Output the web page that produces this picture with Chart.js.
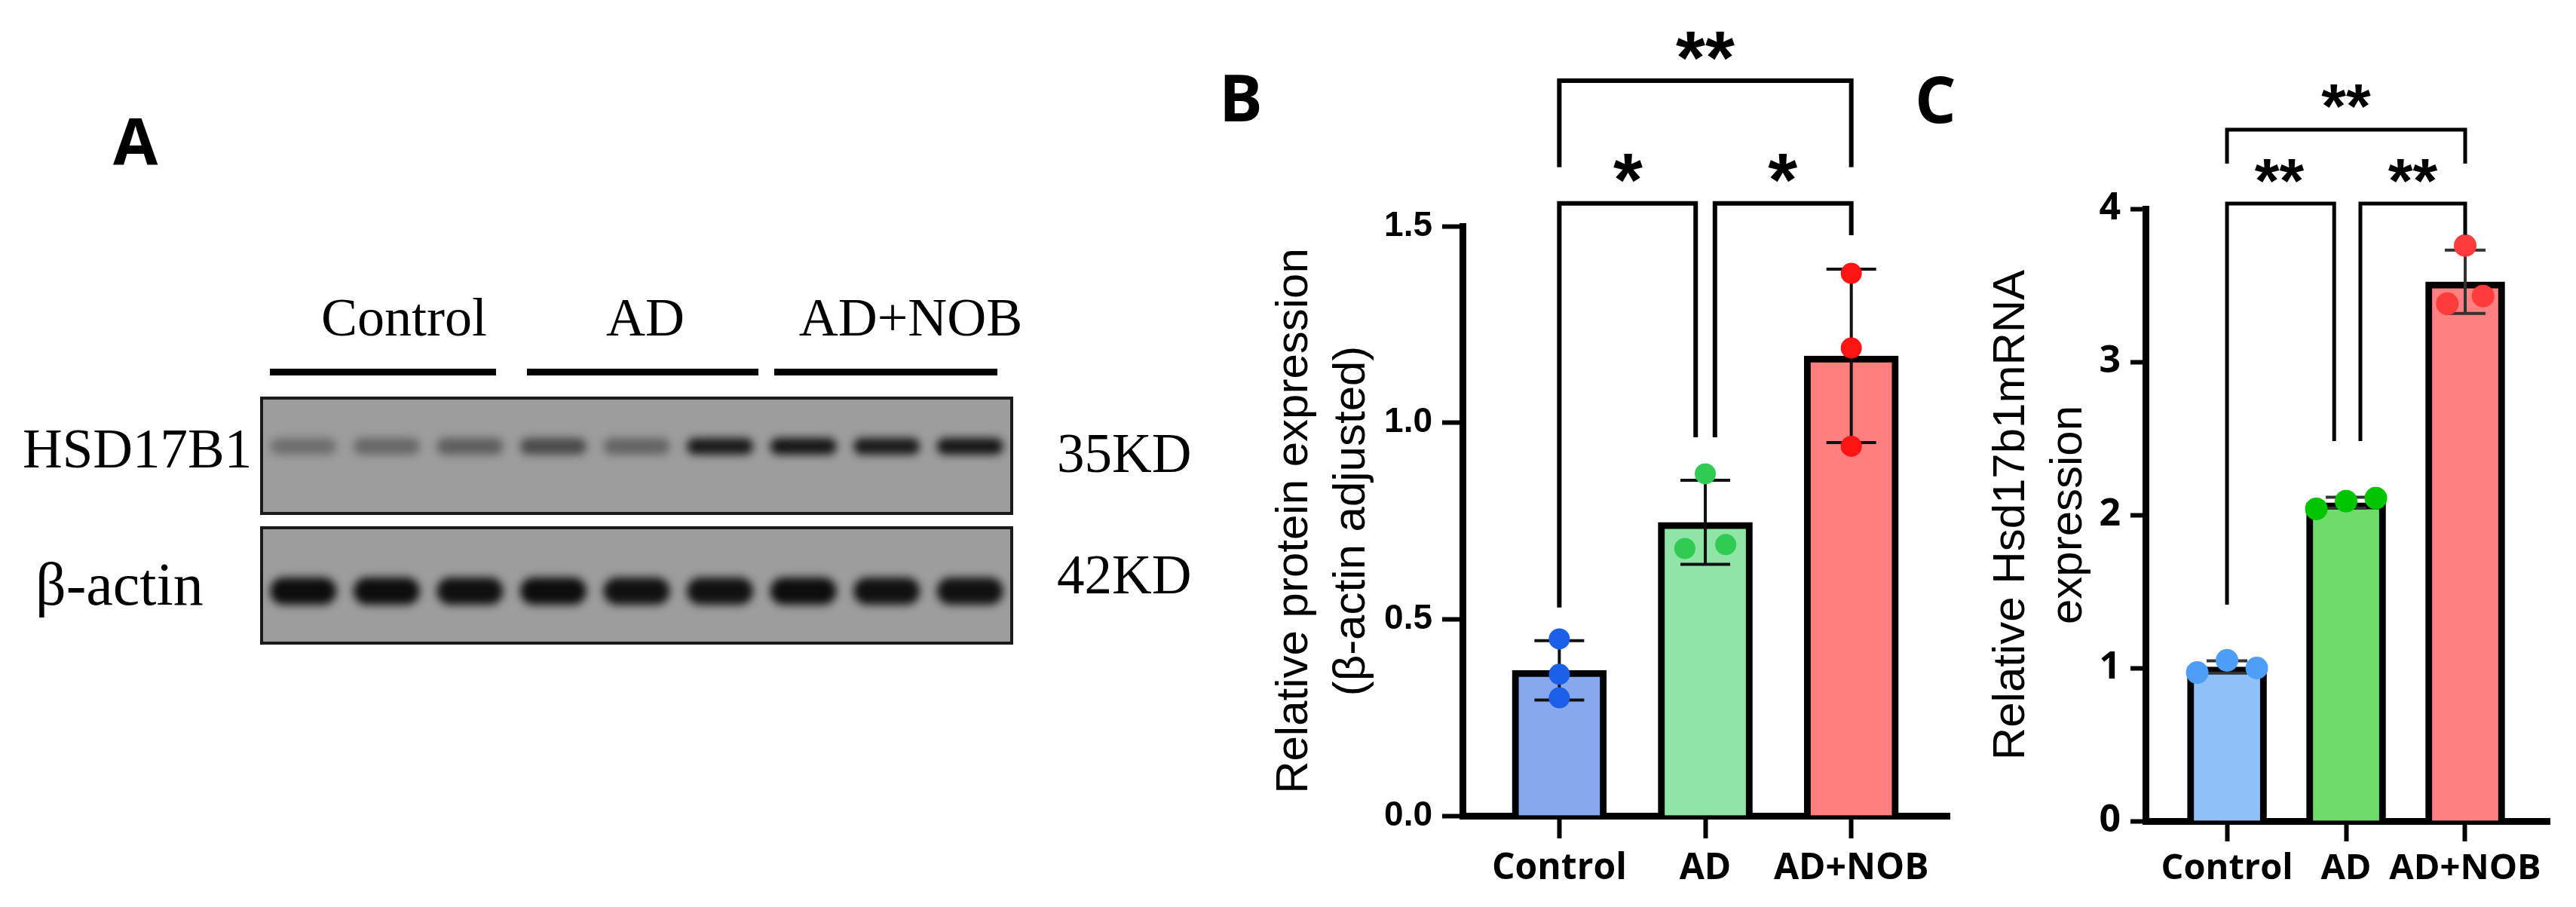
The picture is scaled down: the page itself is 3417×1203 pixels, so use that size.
<!DOCTYPE html>
<html>
<head>
<meta charset="utf-8">
<script src="https://cdn.jsdelivr.net/npm/chart.js@4.4.1/dist/chart.umd.min.js"></script>
<style>
  html, body { margin: 0; padding: 0; background: #fff; }
  #wrap { position: relative; width: 3417px; height: 1203px; overflow: hidden; }
  canvas { position: absolute; top: 0; }
</style>
</head>
<body>
<div id="wrap">
  <canvas id="bg" width="3417" height="1203" style="left:0"></canvas>
  <canvas id="chartB" width="1000" height="1203" style="left:1600px"></canvas>
  <canvas id="chartC" width="867" height="1203" style="left:2550px"></canvas>
</div>
<script>
// ---- data ----
const groups = ['Control', 'AD', 'AD+NOB'];

// B: relative protein expression (beta-actin adjusted), 3 replicates per group
const proteinControl = [0.45, 0.36, 0.30];
const proteinAD = [0.87, 0.68, 0.69];
const proteinNOB = [1.38, 1.19, 0.94];
const proteinTicks = [0, 0.5, 1.0, 1.5];

// C: relative Hsd17b1 mRNA expression
const mrnaControl = [0.97, 1.05, 1.00];
const mrnaAD = [2.04, 2.09, 2.11];
const mrnaNOB = [3.76, 3.38, 3.43];
const mrnaTicks = [0, 1, 2, 3, 4];

// A: western blot band darkness per lane (0..1)
const blotLanes = ['Control', 'Control', 'Control', 'AD', 'AD', 'AD', 'AD+NOB', 'AD+NOB', 'AD+NOB'];
const hsdBands = [0.30, 0.36, 0.42, 0.55, 0.38, 0.88, 0.90, 0.88, 0.90];
const actinBands = [0.97, 0.97, 0.95, 0.97, 0.94, 0.94, 0.97, 0.94, 0.94];

// jitter of the dots inside each bar (category units)
const jitterB = [[0, 0, 0], [0, -0.14, 0.14], [0, 0, 0]];
const jitterC = [[-0.25, 0, 0.25], [-0.25, 0, 0.25], [0, -0.15, 0.15]];

// significance brackets (value units)
const bracketsB = [
  { from: 0, to: 2, top: 1.87, legFrom: 1.65, legTo: 1.65, label: '**', labelX: 1, labelY: 1.97 },
  { from: 0, to: 0.934, top: 1.558, legFrom: 0.53, legTo: 0.963, label: '*', labelX: 0.47, labelY: 1.66 },
  { from: 1.066, to: 2, top: 1.558, legFrom: 0.963, legTo: 1.477, label: '*', labelX: 1.53, labelY: 1.66 }
];
const bracketsC = [
  { from: 0, to: 2, top: 4.517, legFrom: 4.296, legTo: 4.296, label: '**', labelX: 1, labelY: 4.76 },
  { from: 0, to: 0.9, top: 4.034, legFrom: 1.414, legTo: 2.483, label: '**', labelX: 0.44, labelY: 4.27 },
  { from: 1.12, to: 2, top: 4.034, legFrom: 2.483, legTo: 3.83, label: '**', labelX: 1.56, labelY: 4.27 }
];

const mean = a => a.reduce((s, v) => s + v, 0) / a.length;
const sd = a => { const m = mean(a); return Math.sqrt(a.reduce((s, v) => s + (v - m) * (v - m), 0) / (a.length - 1)); };

// ---- panel A: blot and labels, plain canvas ----
function drawBackground() {
  const ctx = document.getElementById('bg').getContext('2d');
  ctx.fillStyle = '#fff';
  ctx.fillRect(0, 0, 3417, 1203);

  ctx.fillStyle = '#000';
  ctx.font = 'bold 86px "Open Sans"';
  ctx.textBaseline = 'alphabetic';
  ctx.textAlign = 'left';
  ctx.fillText('A', 150, 219);
  ctx.fillText('B', 1617, 161);
  ctx.fillText('C', 2540, 163);

  ctx.font = '72px "Liberation Serif"';
  ctx.textAlign = 'center';
  ctx.fillText('Control', 536, 445);
  ctx.fillText('AD', 856, 445);
  ctx.fillText('AD+NOB', 1208, 445);

  ctx.fillRect(358, 489, 300, 9);
  ctx.fillRect(699, 489, 307, 9);
  ctx.fillRect(1027, 489, 296, 9);

  ctx.textAlign = 'left';
  ctx.font = '73px "Liberation Serif"';
  ctx.fillText('HSD17B1', 30, 620);
  ctx.font = '80px "Liberation Serif"';
  ctx.fillText('β-actin', 47, 802);
  ctx.font = '73px "Liberation Serif"';
  ctx.fillText('35KD', 1402, 626);
  ctx.fillText('42KD', 1402, 787);

  drawBlot(ctx, { x: 347, y: 528, w: 995, h: 153 }, hsdBands, 592, 22);
  drawBlot(ctx, { x: 347, y: 700, w: 995, h: 153 }, actinBands, 784, 36);
}

function drawBlot(ctx, box, levels, bandY, bandH) {
  ctx.save();
  ctx.beginPath();
  ctx.rect(box.x, box.y, box.w, box.h);
  ctx.clip();
  ctx.fillStyle = '#9d9d9d';
  ctx.fillRect(box.x, box.y, box.w, box.h);
  const lane = box.w / levels.length;
  ctx.filter = 'blur(6px)';
  levels.forEach((v, i) => {
    const cx = box.x + lane * (i + 0.5);
    ctx.fillStyle = 'rgba(8,8,8,' + v + ')';
    ctx.beginPath();
    ctx.roundRect(cx - 44, bandY - bandH / 2, 88, bandH, bandH / 2);
    ctx.fill();
  });
  ctx.restore();
  ctx.strokeStyle = '#1a1a1a';
  ctx.lineWidth = 4;
  ctx.strokeRect(box.x, box.y, box.w, box.h);
}

// ---- plugins ----
const errorBars = {
  id: 'errorBars',
  afterDatasetDraw(chart, args, opts) {
    if (chart.data.datasets[args.index].type !== 'bar') return;
    const { ctx, scales: { x, y } } = chart;
    ctx.save();
    ctx.strokeStyle = opts.color;
    ctx.lineWidth = opts.lineWidth;
    opts.sets.forEach((pts, i) => {
      const m = mean(pts), s = sd(pts);
      const cx = x.getPixelForValue(i);
      const yt = y.getPixelForValue(m + s), yb = y.getPixelForValue(m - s);
      ctx.beginPath();
      ctx.moveTo(cx, yt); ctx.lineTo(cx, yb);
      ctx.moveTo(cx - opts.cap / 2, yt); ctx.lineTo(cx + opts.cap / 2, yt);
      ctx.moveTo(cx - opts.cap / 2, yb); ctx.lineTo(cx + opts.cap / 2, yb);
      ctx.stroke();
    });
    ctx.restore();
  }
};

const sigBrackets = {
  id: 'sigBrackets',
  afterDraw(chart, args, opts) {
    const { ctx, scales: { x, y } } = chart;
    ctx.save();
    ctx.strokeStyle = '#000';
    ctx.fillStyle = '#000';
    ctx.lineWidth = opts.lineWidth;
    ctx.lineJoin = 'miter';
    ctx.font = opts.font;
    ctx.textAlign = 'center';
    ctx.textBaseline = 'alphabetic';
    opts.brackets.forEach(b => {
      const x1 = x.getPixelForValue(b.from), x2 = x.getPixelForValue(b.to);
      const yt = y.getPixelForValue(b.top);
      ctx.beginPath();
      ctx.moveTo(x1, y.getPixelForValue(b.legFrom));
      ctx.lineTo(x1, yt);
      ctx.lineTo(x2, yt);
      ctx.lineTo(x2, y.getPixelForValue(b.legTo));
      ctx.stroke();
      ctx.fillText(b.label, x.getPixelForValue(b.labelX), y.getPixelForValue(b.labelY) + opts.starShift);
    });
    ctx.restore();
  }
};

function makeChart(id, cfg) {
  const sets = cfg.sets;
  const barData = sets.map((pts, i) => ({ x: i, y: mean(pts) }));
  const dots = [], dotColors = [];
  sets.forEach((pts, i) => pts.forEach((v, k) => {
    dots.push({ x: i + cfg.jitter[i][k], y: v });
    dotColors.push(cfg.dotColors[i]);
  }));

  return new Chart(document.getElementById(id), {
    type: 'bar',
    data: {
      datasets: [
        {
          type: 'scatter',
          data: dots,
          pointRadius: cfg.dotRadius,
          pointBackgroundColor: dotColors,
          pointBorderWidth: 0,
          order: 1
        },
        {
          type: 'bar',
          data: barData,
          backgroundColor: cfg.barColors,
          borderColor: '#000',
          borderWidth: cfg.barBorder,
          barThickness: cfg.barWidth,
          order: 2
        }
      ]
    },
    options: {
      responsive: false,
      animation: false,
      devicePixelRatio: 1,
      events: [],
      layout: { padding: cfg.padding },
      plugins: {
        legend: { display: false },
        tooltip: { enabled: false },
        errorBars: { sets: sets, cap: cfg.cap, lineWidth: cfg.errWidth, color: cfg.errColor },
        sigBrackets: { brackets: cfg.brackets, font: cfg.starFont, starShift: cfg.starShift, lineWidth: cfg.bracketWidth }
      },
      scales: {
        x: {
          type: 'linear',
          offset: false,
          min: cfg.xMin,
          max: cfg.xMax,
          afterBuildTicks: s => { s.ticks = groups.map((g, i) => ({ value: i })); },
          afterFit: s => { s.height = cfg.xHeight; },
          ticks: {
            callback: v => groups[v],
            color: '#000',
            font: { family: 'Open Sans', weight: 'bold', size: cfg.catSize },
            padding: cfg.catPad,
            maxRotation: 0,
            autoSkip: false
          },
          grid: { offset: false, drawOnChartArea: false, tickLength: cfg.xTick, tickWidth: 6, tickColor: '#000' },
          border: { color: '#000', width: 9 }
        },
        y: {
          min: 0,
          max: cfg.yMax,
          afterBuildTicks: s => { s.ticks = cfg.ticks.map(v => ({ value: v })); },
          afterFit: s => { s.width = cfg.yWidth; },
          ticks: {
            callback: cfg.tickFmt,
            color: '#000',
            font: cfg.tickFont,
            padding: 13
          },
          grid: { drawOnChartArea: false, tickLength: cfg.yTick, tickWidth: 6, tickColor: '#000' },
          border: { color: '#000', width: 9 },
          title: {
            display: true,
            text: cfg.title,
            color: '#000',
            padding: 0,
            font: { family: 'Liberation Sans', size: 60, lineHeight: 1.27 }
          }
        }
      }
    },
    plugins: [errorBars, sigBrackets]
  });
}

drawBackground();

makeChart('chartB', {
  sets: [proteinControl, proteinAD, proteinNOB],
  jitter: jitterB,
  dotColors: ['#1c5fe8', '#2fcb52', '#ff1414'],
  barColors: ['#88a8ee', '#90e4a6', '#ff7f7f'],
  dotRadius: 14,
  barWidth: 125,
  barBorder: 9,
  cap: 66,
  errWidth: 4,
  errColor: '#111',
  brackets: bracketsB,
  starFont: 'bold 100px "Liberation Sans"',
  starShift: 56,
  bracketWidth: 6,
  padding: { left: 79, top: 300, right: 6, bottom: 0 },
  xMin: -0.663,
  xMax: 2.673,
  xHeight: 121,
  xTick: 30,
  catSize: 48,
  catPad: 12,
  yMax: 1.5,
  ticks: proteinTicks,
  tickFmt: v => v.toFixed(1),
  tickFont: { family: 'Liberation Sans', weight: 'bold', size: 46 },
  yWidth: 261,
  yTick: 27,
  title: ['Relative protein expression', '(β-actin adjusted)']
});

makeChart('chartC', {
  sets: [mrnaControl, mrnaAD, mrnaNOB],
  jitter: jitterC,
  dotColors: ['#4d9ef6', '#00c400', '#ff3c3c'],
  barColors: ['#8fc0f8', '#6ddc69', '#ff8080'],
  dotRadius: 15,
  barWidth: 105,
  barBorder: 9,
  cap: 54,
  errWidth: 4,
  errColor: '#333',
  brackets: bracketsC,
  starFont: 'bold 84px "Liberation Sans"',
  starShift: 47,
  bracketWidth: 5,
  padding: { left: 80, top: 277, right: 35, bottom: 0 },
  xMin: -0.684,
  xMax: 2.709,
  xHeight: 114,
  xTick: 27,
  catSize: 47,
  catPad: 8,
  yMax: 4,
  ticks: mrnaTicks,
  tickFmt: v => String(v),
  tickFont: { family: 'Open Sans', weight: 'bold', size: 50 },
  yWidth: 216,
  yTick: 20,
  title: ['Relative Hsd17b1mRNA', 'expression']
});
</script>
</body>
</html>
